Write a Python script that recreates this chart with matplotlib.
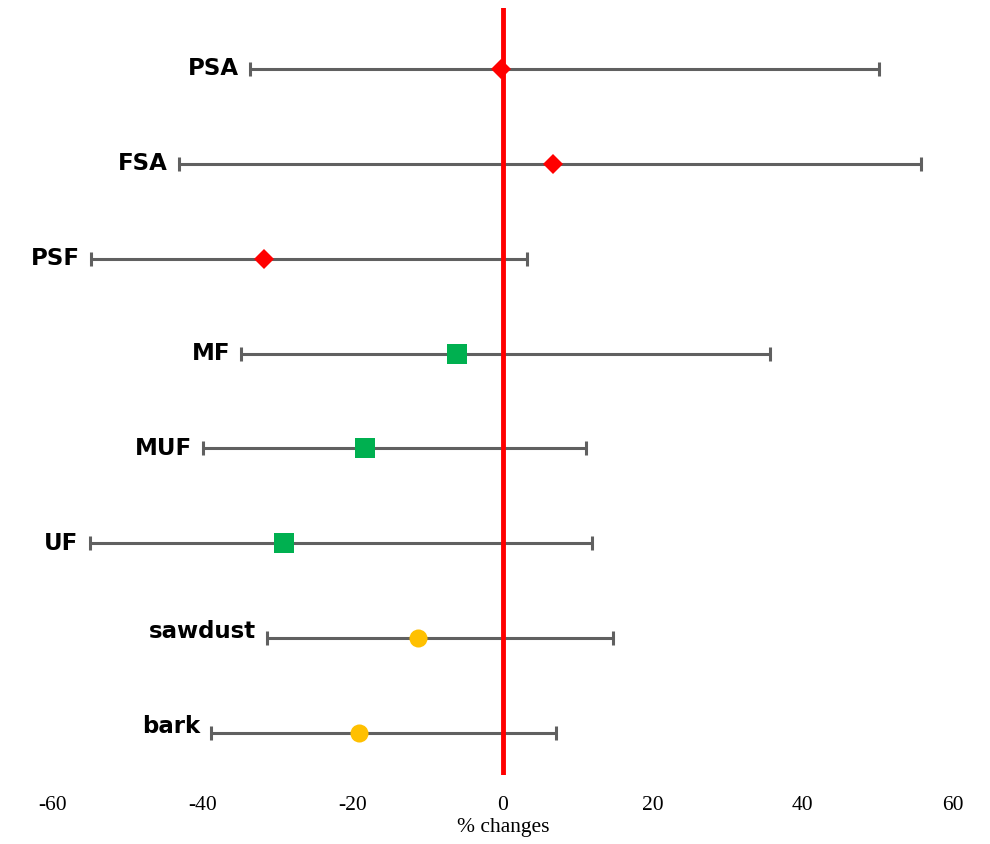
import numpy as np
import matplotlib
matplotlib.use("Agg")
import matplotlib.pyplot as plt

plt.rcParams["axes.unicode_minus"] = False

# categories, top to bottom
labels = ["PSA", "FSA", "PSF", "MF", "MUF", "UF", "sawdust", "bark"]
means = [-0.3, 6.7, -31.9, -6.1, -18.4, -29.2, -11.3, -19.2]
lower = [-33.7, -43.2, -54.9, -34.9, -40.0, -55.1, -31.5, -38.9]
upper = [50.1, 55.7, 3.2, 35.6, 11.1, 11.9, 14.7, 7.1]
groups = ["surf", "surf", "surf", "resin", "resin", "resin", "wood", "wood"]

group_style = {
    "surf": dict(marker="D", color="#FF0000", ms=10),
    "resin": dict(marker="s", color="#00B050", ms=14),
    "wood": dict(marker="o", color="#FFC000", ms=13),
}

fig = plt.figure(figsize=(9.9, 8.44), dpi=100)
ax = fig.add_axes([0.0535, 0.0818, 0.909, 0.9087])

n = len(labels)
ypos = np.arange(n)[::-1]
means = np.array(means)
lower = np.array(lower)
upper = np.array(upper)

ax.axvline(0, color="#FF0000", lw=3.5, zorder=2)

for i in range(n):
    ax.errorbar(means[i], ypos[i],
                xerr=[[means[i] - lower[i]], [upper[i] - means[i]]],
                fmt="none", ecolor="#606060", elinewidth=2.2,
                capsize=5, capthick=2.2, zorder=1)
    st = group_style[groups[i]]
    ax.plot(means[i], ypos[i], linestyle="none", marker=st["marker"],
            color=st["color"], markersize=st["ms"], markeredgewidth=0, zorder=3)
    dy = 5 if labels[i].islower() else 0
    ax.annotate(labels[i], xy=(lower[i], ypos[i]), xytext=(-8, dy),
                textcoords="offset points", ha="right", va="center",
                fontsize=16.5, fontweight="bold", family="DejaVu Sans")

ax.set_xlim(-60, 60)
ax.set_ylim(-0.44, 7.64)
ax.set_xticks([-60, -40, -20, 0, 20, 40, 60])
ax.set_yticks([])
ax.tick_params(axis="x", length=0, pad=15, labelsize=15.5)
for lab in ax.get_xticklabels():
    lab.set_family("Liberation Serif")
for s in ax.spines.values():
    s.set_visible(False)
ax.set_xlabel("% changes", fontsize=15.5, family="Liberation Serif", labelpad=2)

fig.savefig("out.png", dpi=100)
